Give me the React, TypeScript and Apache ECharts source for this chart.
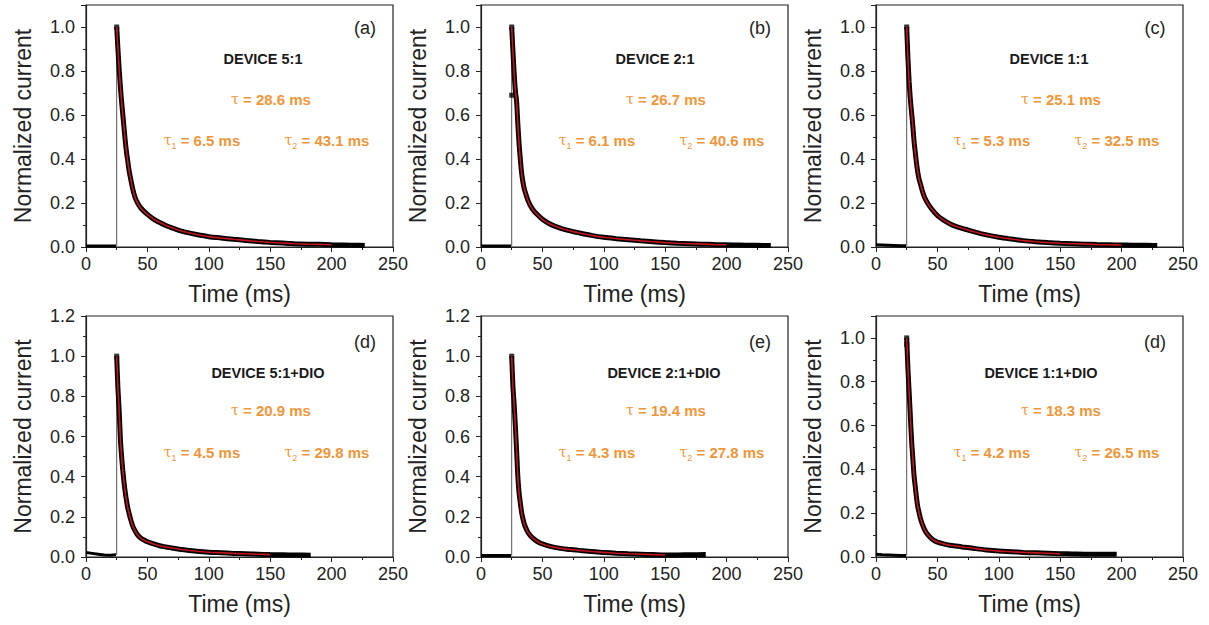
import React, { useEffect, useRef } from "react";
import * as echarts from "echarts";

const FONT = "'Liberation Sans', Arial, sans-serif";
const ORANGE = "#F0963A";
const RED = "#C0171C";

const panelLabels = ["(a)", "(b)", "(c)", "(d)", "(e)", "(d)"];
const deviceNames = ["DEVICE 5:1", "DEVICE 2:1", "DEVICE 1:1", "DEVICE 5:1+DIO", "DEVICE 2:1+DIO", "DEVICE 1:1+DIO"];
const tauValues = ["28.6", "26.7", "25.1", "20.9", "19.4", "18.3"];
const tau1Values = ["6.5", "6.1", "5.3", "4.5", "4.3", "4.2"];
const tau2Values = ["43.1", "40.6", "32.5", "29.8", "27.8", "26.5"];
const yMaxValues = [1.1, 1.1, 1.1, 1.2, 1.2, 1.1];
const xMin = 0;
const xMax = 250;

// baseline before the pulse
const baseT_a = [0, 8, 16, 24.5];
const baseY_a = [0.005, 0.005, 0.005, 0.005];
const baseT_b = [0, 8, 16, 24.5];
const baseY_b = [0.005, 0.005, 0.005, 0.005];
const baseT_c = [0, 5, 10, 15, 20, 24.5];
const baseY_c = [0.01, 0.009, 0.008, 0.007, 0.006, 0.006];
const baseT_d = [0, 5, 10, 15, 20, 24.5];
const baseY_d = [0.022, 0.018, 0.014, 0.01, 0.009, 0.011];
const baseT_e = [0, 8, 16, 24.5];
const baseY_e = [0.008, 0.008, 0.007, 0.007];
const baseT_f = [0, 5, 10, 15, 20, 24.5];
const baseY_f = [0.012, 0.01, 0.009, 0.008, 0.007, 0.007];

// decay after the pulse
const decayT_a = [25, 26, 27, 28, 29, 30, 31, 32, 33, 34, 35, 36, 38, 40, 42, 45, 50, 55, 60, 65, 70, 75, 80, 90, 100, 110, 120, 130, 140, 150, 160, 170, 180, 190, 200, 210, 220, 227];
const decayY_a = [1.0, 0.9, 0.81, 0.73, 0.66, 0.6, 0.54, 0.48, 0.43, 0.39, 0.35, 0.32, 0.265, 0.225, 0.2, 0.175, 0.148, 0.127, 0.111, 0.098, 0.087, 0.077, 0.069, 0.057, 0.047, 0.041, 0.035, 0.03, 0.025, 0.021, 0.018, 0.015, 0.013, 0.012, 0.01, 0.009, 0.008, 0.007];
const decayT_b = [25, 26, 27, 28, 29, 30, 31, 32, 33, 34, 35, 36, 38, 40, 42, 45, 50, 55, 60, 65, 70, 75, 80, 90, 100, 110, 120, 130, 140, 150, 160, 170, 180, 190, 200, 210, 220, 230, 236];
const decayY_b = [1.0, 0.89, 0.79, 0.71, 0.66, 0.56, 0.47, 0.4, 0.34, 0.3, 0.27, 0.25, 0.215, 0.19, 0.172, 0.152, 0.126, 0.108, 0.095, 0.085, 0.077, 0.07, 0.064, 0.053, 0.044, 0.038, 0.033, 0.028, 0.024, 0.02, 0.017, 0.015, 0.013, 0.011, 0.01, 0.009, 0.008, 0.007, 0.007];
const decayT_c = [25, 26, 27, 28, 29, 30, 31, 32, 33, 34, 35, 36, 38, 40, 42, 45, 50, 55, 60, 65, 70, 75, 80, 90, 100, 110, 120, 130, 140, 150, 160, 170, 180, 190, 200, 210, 220, 229];
const decayY_c = [1.0, 0.86, 0.75, 0.67, 0.61, 0.55, 0.48, 0.43, 0.38, 0.34, 0.31, 0.29, 0.25, 0.22, 0.2, 0.175, 0.143, 0.122, 0.106, 0.094, 0.085, 0.077, 0.069, 0.055, 0.044, 0.036, 0.029, 0.024, 0.02, 0.017, 0.015, 0.013, 0.011, 0.01, 0.009, 0.008, 0.008, 0.007];
const decayT_d = [25, 26, 27, 28, 29, 30, 31, 32, 33, 34, 35, 36, 38, 40, 42, 45, 48, 50, 55, 60, 65, 70, 75, 80, 90, 100, 110, 120, 130, 140, 150, 160, 170, 183];
const decayY_d = [1.0, 0.84, 0.73, 0.59, 0.5, 0.43, 0.37, 0.32, 0.28, 0.245, 0.22, 0.195, 0.155, 0.13, 0.11, 0.092, 0.082, 0.076, 0.065, 0.056, 0.05, 0.045, 0.04, 0.036, 0.029, 0.024, 0.021, 0.018, 0.016, 0.014, 0.012, 0.011, 0.01, 0.009];
const decayT_e = [25, 26, 27, 28, 29, 30, 31, 32, 33, 34, 35, 36, 38, 40, 42, 45, 48, 50, 55, 60, 65, 70, 75, 80, 90, 100, 110, 120, 130, 140, 150, 160, 170, 183];
const decayY_e = [1.0, 0.85, 0.76, 0.65, 0.53, 0.4, 0.32, 0.27, 0.225, 0.195, 0.17, 0.152, 0.125, 0.108, 0.095, 0.08, 0.07, 0.065, 0.055, 0.048, 0.043, 0.039, 0.036, 0.033, 0.027, 0.023, 0.019, 0.016, 0.014, 0.012, 0.01, 0.01, 0.011, 0.012];
const decayT_f = [25, 26, 27, 28, 29, 30, 31, 32, 33, 34, 35, 36, 38, 40, 42, 45, 48, 50, 55, 60, 65, 70, 75, 80, 90, 100, 110, 120, 130, 140, 150, 160, 170, 180, 196];
const decayY_f = [1.0, 0.86, 0.75, 0.64, 0.53, 0.45, 0.37, 0.32, 0.27, 0.23, 0.205, 0.18, 0.145, 0.12, 0.103, 0.085, 0.073, 0.068, 0.06, 0.054, 0.05, 0.046, 0.043, 0.039, 0.032, 0.027, 0.024, 0.021, 0.019, 0.017, 0.015, 0.014, 0.013, 0.013, 0.012];

// end of the fitted curve (ms)
const fitEnds = [201, 205, 200, 157, 151, 150];
// isolated data squares at the pulse (x = 25 ms)
const peakMarks_a = [1.0];
const peakMarks_b = [1.0, 0.69];
const peakMarks_c = [1.0];
const peakMarks_d = [1.0];
const peakMarks_e = [1.0];
const peakMarks_f = [1.0, 0.97];
const pulseTime = 25;

const baseTs = [baseT_a, baseT_b, baseT_c, baseT_d, baseT_e, baseT_f];
const baseYs = [baseY_a, baseY_b, baseY_c, baseY_d, baseY_e, baseY_f];
const decayTs = [decayT_a, decayT_b, decayT_c, decayT_d, decayT_e, decayT_f];
const decayYs = [decayY_a, decayY_b, decayY_c, decayY_d, decayY_e, decayY_f];
const peakMarks = [peakMarks_a, peakMarks_b, peakMarks_c, peakMarks_d, peakMarks_e, peakMarks_f];

const zip = (t: number[], y: number[]) => {
  const n = Math.min(t.length, y.length);
  const out: number[][] = [];
  for (let i = 0; i < n; i++) out.push([t[i], y[i]]);
  return out;
};

const LEFTS = [86, 481, 876];
const TOPS = [5, 316];
const HEIGHTS = [242, 241];
const GW = 307;

function buildOption() {
  const grid: any[] = [];
  const xAxis: any[] = [];
  const yAxis: any[] = [];
  const series: any[] = [];
  const graphic: any[] = [];

  for (let i = 0; i < 6; i++) {
    const row = Math.floor(i / 3);
    const col = i % 3;
    const L = LEFTS[col];
    const T = TOPS[row];
    const H = HEIGHTS[row];
    grid.push({
      left: L,
      top: T,
      width: GW,
      height: H,
      show: true,
      borderColor: "#222",
      borderWidth: 1.2,
      backgroundColor: "transparent",
    });
    xAxis.push({
      gridIndex: i,
      type: "value",
      min: xMin,
      max: xMax,
      interval: 50,
      axisLine: { show: true, onZero: false, lineStyle: { color: "#222", width: 1.2 } },
      axisTick: { show: true, inside: false, length: 5, lineStyle: { color: "#222", width: 1 } },
      minorTick: { show: true, splitNumber: 2, length: 3, lineStyle: { color: "#222", width: 1 } },
      splitLine: { show: false },
      axisLabel: { fontSize: 18, fontFamily: FONT, color: "#222", margin: 8 },
      name: "Time (ms)",
      nameLocation: "middle",
      nameGap: 35,
      nameTextStyle: { fontSize: 23, fontFamily: FONT, color: "#222" },
    });
    const yMax = yMaxValues[i];
    yAxis.push({
      gridIndex: i,
      type: "value",
      min: 0,
      max: yMax,
      interval: 0.2,
      axisLine: { show: true, onZero: false, lineStyle: { color: "#222", width: 1.2 } },
      axisTick: { show: true, inside: false, length: 5, lineStyle: { color: "#222", width: 1 } },
      splitLine: { show: false },
      axisLabel: {
        fontSize: 18,
        fontFamily: FONT,
        color: "#222",
        margin: 11,
        formatter: (v: number) => {
          const k = Math.round(v * 10);
          return k % 2 === 0 ? (k / 10).toFixed(1) : "";
        },
      },
      name: "Normalized current",
      nameLocation: "middle",
      nameGap: 52,
      nameTextStyle: { fontSize: 23, fontFamily: FONT, color: "#222" },
    });
    // minor ticks every 0.1
    yAxis.push({
      gridIndex: i,
      type: "value",
      min: 0,
      max: yMax,
      interval: 0.1,
      position: "left",
      axisLine: { show: false },
      axisTick: { show: true, inside: false, length: 3, lineStyle: { color: "#222", width: 1 } },
      axisLabel: { show: false },
      splitLine: { show: false },
    });
    const yIdx = i * 2;
    const base = zip(baseTs[i], baseYs[i]);
    const decay = zip(decayTs[i], decayYs[i]);
    const fit = decay.filter((p) => p[0] <= fitEnds[i]);
    const riseLine = [
      [pulseTime, baseYs[i][baseYs[i].length - 1]],
      [pulseTime, decayYs[i][0]],
    ];
    series.push({
      type: "line",
      xAxisIndex: i,
      yAxisIndex: yIdx,
      data: base,
      symbol: "none",
      lineStyle: { color: "#000", width: 3 },
      silent: true,
      z: 2,
    });
    series.push({
      type: "line",
      xAxisIndex: i,
      yAxisIndex: yIdx,
      data: riseLine,
      symbol: "none",
      lineStyle: { color: "#555", width: 1 },
      silent: true,
      z: 2,
    });
    series.push({
      type: "line",
      xAxisIndex: i,
      yAxisIndex: yIdx,
      data: decay,
      symbol: "none",
      smooth: 0.3,
      lineStyle: { color: "#000", width: 5 },
      silent: true,
      z: 3,
    });
    series.push({
      type: "scatter",
      xAxisIndex: i,
      yAxisIndex: yIdx,
      data: peakMarks[i].map((v) => [pulseTime, v]),
      symbol: "rect",
      symbolSize: 5,
      itemStyle: { color: "#000" },
      silent: true,
      z: 4,
    });
    series.push({
      type: "line",
      xAxisIndex: i,
      yAxisIndex: yIdx,
      data: fit,
      symbol: "none",
      smooth: 0.3,
      lineStyle: { color: RED, width: 1.6 },
      silent: true,
      z: 5,
    });

    const off = row === 0 ? { lab: 23, dev: 54, tau: 94, tau12: 135 } : { lab: 26, dev: 57, tau: 94, tau12: 136 };
    const devOff = [177, 174, 173, 182, 183, 165][i];
    graphic.push({
      type: "text",
      x: L + 279,
      y: T + off.lab,
      style: { text: panelLabels[i], fontSize: 18, fontFamily: FONT, fill: "#222", align: "center", verticalAlign: "middle" },
    });
    graphic.push({
      type: "text",
      x: L + devOff,
      y: T + off.dev,
      style: { text: deviceNames[i], fontSize: 14.5, fontWeight: "bold", fontFamily: FONT, fill: "#1a1a1a", align: "center", verticalAlign: "middle" },
    });
    const rich = {
      g: { fontFamily: "'DejaVu Serif', serif", fontWeight: "normal", fontSize: 14, fill: ORANGE, lineHeight: 20 },
      s: { fontFamily: FONT, fontWeight: "normal", fontSize: 9, fill: ORANGE, verticalAlign: "bottom", lineHeight: 9 },
    };
    const tauStyle = (text: string) => ({
      text,
      rich,
      fontSize: 15,
      fontWeight: "bold",
      fontFamily: FONT,
      fill: ORANGE,
      lineHeight: 20,
      align: "center",
      verticalAlign: "middle",
    });
    graphic.push({ type: "text", x: L + 185, y: T + off.tau, style: tauStyle(`{g|τ} = ${tauValues[i]} ms`) });
    graphic.push({ type: "text", x: L + 116, y: T + off.tau12, style: tauStyle(`{g|τ}{s|1} = ${tau1Values[i]} ms`) });
    graphic.push({ type: "text", x: L + 241, y: T + off.tau12, style: tauStyle(`{g|τ}{s|2} = ${tau2Values[i]} ms`) });
  }

  return {
    animation: false,
    backgroundColor: "#fff",
    grid,
    xAxis,
    yAxis,
    series,
    graphic,
  };
}

export default function App() {
  const ref = useRef<HTMLDivElement>(null);
  useEffect(() => {
    if (!ref.current) return;
    const chart = echarts.init(ref.current, undefined, { renderer: "svg" });
    chart.setOption(buildOption() as any);
    return () => chart.dispose();
  }, []);
  return (
    <div
      ref={ref}
      style={{ position: "absolute", left: 0, top: 0, width: 1209, height: 625, background: "#fff" }}
    />
  );
}
